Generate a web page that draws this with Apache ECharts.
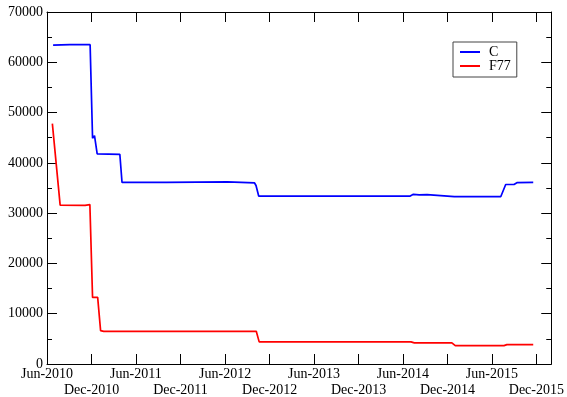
<!DOCTYPE html>
<html>
<head>
<meta charset="utf-8">
<script src="https://cdn.jsdelivr.net/npm/echarts@6/dist/echarts.min.js"></script>
<style>html,body{margin:0;padding:0;background:#fff}#c{width:567px;height:397px}</style>
</head>
<body>
<div id="c"></div>
<script>
// ---- data ----
const cDates = ['2010-06-26','2010-09-03','2010-11-25','2010-12-05','2010-12-09','2010-12-13','2010-12-24','2010-12-31','2011-03-27','2011-04-05','2011-10-04','2011-10-09','2012-06-11','2012-06-19','2012-09-30','2012-10-06','2012-10-17','2013-01-11','2013-01-19','2014-07-01','2014-07-14','2014-08-07','2014-09-08','2014-12-29','2015-07-08','2015-07-28','2015-08-31','2015-09-12','2015-11-18'];
const cValues = [63400,63500,63500,44900,45000,45400,41800,41700,41700,36100,36100,36200,36200,36000,36000,35500,33400,33400,33300,33400,33750,33650,33700,33300,33300,35700,35700,36050,36100];
const fDates = ['2010-06-23','2010-07-25','2010-11-04','2010-11-24','2010-12-05','2010-12-26','2011-01-07','2011-01-20','2012-10-07','2012-10-19','2014-07-04','2014-07-18','2014-12-19','2015-01-02','2015-07-21','2015-08-02','2015-11-18'];
const fValues = [47800,31600,31550,31700,13250,13250,6650,6500,6500,4400,4400,4200,4200,3650,3650,3850,3850];
const junTickDates = ['2010-06-01','2011-06-01','2012-06-01','2013-06-01','2014-06-01','2015-06-01'];
const decTickDates = ['2010-12-01','2011-12-01','2012-12-01','2013-12-01','2014-12-01','2015-12-01'];
const xMinDate = '2010-06-01', xMaxDate = '2016-01-31';
const seriesNames = ['C','F77'];
const months = ['Jan','Feb','Mar','Apr','May','Jun','Jul','Aug','Sep','Oct','Nov','Dec'];

function ts(s){const p=s.split('-').map(Number);return Date.UTC(p[0],p[1]-1,p[2]);}
const junTs = junTickDates.map(ts), decTs = decTickDates.map(ts);
const allTs = junTs.concat(decTs).sort((a,b)=>a-b);
const FONT = "'Liberation Serif','Times New Roman',serif";
function fmtDate(v){const d=new Date(v);return months[d.getUTCMonth()]+'-'+d.getUTCFullYear();}

function xAx(pos, opts){
  return {
    type:'value', position:pos, offset:opts.offset||0, min:ts(xMinDate), max:ts(xMaxDate),
    axisLine:{show:opts.line, onZero:false, lineStyle:{color:'#000',width:1}},
    splitLine:{show:false},
    axisTick:{show:opts.line, inside:true, length:10, customValues:allTs, lineStyle:{color:'#000'}},
    axisLabel:{show:!!opts.labels, customValues:opts.labels||[], interval:0, hideOverlap:false,
      margin:3, fontFamily:FONT, fontSize:14, color:'#000', formatter:fmtDate}
  };
}
function yAx(pos, showLabel){
  return {
    type:'value', position:pos, min:0, max:70000, interval:10000,
    axisLine:{show:true, onZero:false, lineStyle:{color:'#000',width:1}},
    splitLine:{show:false},
    axisTick:{show:true, inside:true, length:10, lineStyle:{color:'#000'}},
    minorTick:{show:true, splitNumber:2, length:5, lineStyle:{color:'#000'}},
    axisLabel:{show:showLabel, margin:4, fontFamily:FONT, fontSize:14, color:'#000', formatter:function(v){return String(v);}}
  };
}

const chart = echarts.init(document.getElementById('c'));
chart.setOption({
  animation:false,
  backgroundColor:'#fff',
  grid:{left:47, right:15, top:12, bottom:31, containLabel:false},
  legend:{
    data:seriesNames, orient:'vertical', left:453, top:42,
    backgroundColor:'#fff', borderColor:'#444', borderWidth:1, borderRadius:0,
    padding:[3,6,4,7], itemGap:0, itemWidth:20, itemHeight:2, icon:'rect',
    textStyle:{fontFamily:FONT, fontSize:14, color:'#000', lineHeight:14, padding:[0,0,0,4]}
  },
  xAxis:[
    xAx('bottom',{line:true, labels:junTs}),
    xAx('top',{line:true}),
    xAx('bottom',{line:false, labels:decTs, offset:16})
  ],
  yAxis:[yAx('left',true), yAx('right',false)],
  series:[
    {name:seriesNames[0], type:'line', symbol:'none', color:'#0000ff', lineStyle:{width:1.7,color:'#0000ff'},
      data:cDates.map((d,i)=>[ts(d),cValues[i]])},
    {name:seriesNames[1], type:'line', symbol:'none', color:'#ff0000', lineStyle:{width:1.7,color:'#ff0000'},
      data:fDates.map((d,i)=>[ts(d),fValues[i]])}
  ]
});
</script>
</body>
</html>
